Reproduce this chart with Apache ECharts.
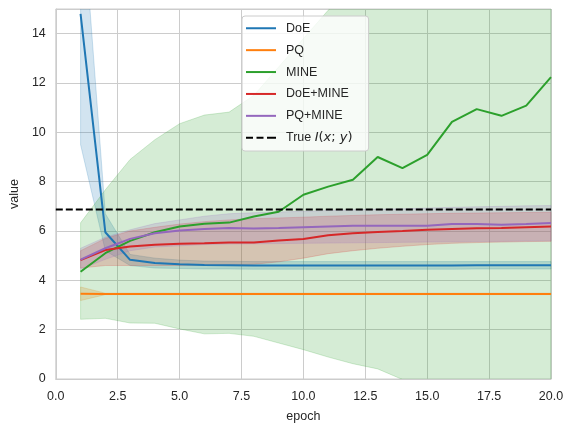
<!DOCTYPE html>
<html>
<head>
<meta charset="utf-8">
<script src="https://cdn.jsdelivr.net/npm/echarts@6/dist/echarts.min.js"></script>
<style>html,body{margin:0;padding:0;background:#fff;}#c{width:574px;height:432px;}</style>
</head>
<body>
<div id="c"></div>
<script>
var epochs = [1,2,3,4,5,6,7,8,9,10,11,12,13,14,15,16,17,18,19,20];
var xTicks = [0,2.5,5,7.5,10,12.5,15,17.5,20];
var yTicks = [0,2,4,6,8,10,12,14];
var trueMI = 6.87;

var doe    = [14.8,5.95,4.83,4.7,4.65,4.62,4.61,4.6,4.6,4.6,4.6,4.6,4.6,4.6,4.6,4.6,4.61,4.61,4.61,4.61];
var doeLo  = [9.5,5.2,4.6,4.5,4.48,4.46,4.46,4.45,4.45,4.45,4.45,4.45,4.45,4.45,4.45,4.45,4.46,4.46,4.46,4.46];
var doeHi  = [20.1,6.7,5.05,4.9,4.82,4.78,4.77,4.76,4.76,4.76,4.76,4.76,4.76,4.76,4.76,4.76,4.76,4.76,4.76,4.76];

var pq     = [3.46,3.45,3.45,3.45,3.45,3.45,3.45,3.45,3.45,3.45,3.45,3.45,3.45,3.45,3.45,3.45,3.45,3.45,3.45,3.45];
var pqLo   = [3.18,3.42,3.42,3.42,3.42,3.42,3.42,3.42,3.42,3.42,3.42,3.42,3.42,3.42,3.42,3.42,3.42,3.42,3.42,3.42];
var pqHi   = [3.73,3.48,3.48,3.48,3.48,3.48,3.48,3.48,3.48,3.48,3.48,3.48,3.48,3.48,3.48,3.48,3.48,3.48,3.48,3.48];

var mine   = [4.35,5.1,5.6,5.95,6.18,6.29,6.34,6.59,6.78,7.47,7.8,8.08,9.0,8.55,9.09,10.42,10.94,10.67,11.08,12.24];
var mineLo = [2.42,2.46,2.27,2.26,2.03,1.83,1.85,1.73,1.46,1.19,0.89,0.62,0.41,-0.02,-0.5,-0.9,-1.3,-1.6,-2.0,-2.4];
var mineHi = [6.33,7.67,8.9,9.7,10.35,10.7,10.82,11.5,12.65,13.8,14.95,15.9,17.0,17.6,18.4,19.6,20.3,20.6,21.2,22.6];

var doeMine   = [4.82,5.23,5.37,5.44,5.48,5.5,5.53,5.53,5.61,5.68,5.83,5.91,5.96,6.0,6.05,6.08,6.11,6.12,6.15,6.18];
var doeMineLo = [4.5,4.6,4.6,4.6,4.6,4.62,4.63,4.65,4.75,4.9,5.08,5.2,5.3,5.38,5.45,5.5,5.53,5.55,5.57,5.58];
var doeMineHi = [5.2,5.7,6.0,6.15,6.28,6.38,6.45,6.5,6.53,6.56,6.6,6.63,6.66,6.68,6.7,6.72,6.73,6.74,6.75,6.76];

var pqMine   = [4.84,5.3,5.68,5.91,6.02,6.08,6.12,6.1,6.12,6.15,6.18,6.21,6.21,6.21,6.21,6.28,6.28,6.25,6.28,6.32];
var pqMineLo = [4.45,4.85,5.2,5.35,5.4,5.45,5.47,5.48,5.49,5.5,5.51,5.52,5.53,5.54,5.55,5.56,5.57,5.58,5.59,5.6];
var pqMineHi = [5.3,5.75,6.05,6.3,6.45,6.6,6.7,6.74,6.77,6.8,6.83,6.86,6.88,6.9,6.93,6.96,6.98,7.0,7.02,7.03];

var legendNames = ['DoE','PQ','MINE','DoE+MINE','PQ+MINE','True I(x;y)'];

var FONT = '"Liberation Sans", Arial, sans-serif';
var TXT = '#262626';
var SOLID_ICON = 'path://M0,0h30v2h-30z';
var DASH_ICON = 'path://M0,0h7v2h-7z M10.5,0h7v2h-7z M21,0h7v2h-7z M28,0h2v2h-2z';

function pts(ys){ return epochs.map(function(x,i){ return [x, ys[i]]; }); }

function lineSeries(name, ys, color){
  return {name:name, type:'line', data:pts(ys), symbol:'none', showSymbol:false,
    lineStyle:{color:color, width:2}, itemStyle:{color:color}, z:3};
}
function bandSeries(name, lo, hi, rgb){
  return {name:name+' band', type:'custom', clip:true, z:3,
    data: epochs.map(function(x,i){ return [x, lo[i], hi[i]]; }),
    encode:{x:0, y:[1,2]},
    renderItem:function(params, api){
      if (params.dataIndex !== 0) return null;
      var p = [];
      for (var i=0;i<epochs.length;i++) p.push(api.coord([epochs[i], hi[i]]));
      for (var j=epochs.length-1;j>=0;j--) p.push(api.coord([epochs[j], lo[j]]));
      return {type:'polygon', shape:{points:p},
        style:{fill:'rgba('+rgb+',0.2)', stroke:'rgba('+rgb+',0.2)', lineWidth:1}};
    }
  };
}

var chart = echarts.init(document.getElementById('c'), null, {renderer:'canvas'});
chart.setOption({
  animation:false,
  backgroundColor:'#ffffff',
  grid:{left:55, right:23, top:9, bottom:53, show:true, borderColor:'#cccccc', borderWidth:1},
  legend:{
    data: legendNames.map(function(n,i){ return {name:n, icon: i===5 ? DASH_ICON : SOLID_ICON}; }),
    orient:'vertical', left:242, top:16,
    itemWidth:30, itemHeight:2, itemGap:7.4,
    padding:[5,16,6,4],
    backgroundColor:'rgba(255,255,255,0.8)', borderColor:'#cccccc', borderWidth:1, borderRadius:3,
    textStyle:{fontFamily:FONT, fontSize:12.5, lineHeight:14.5, color:TXT, padding:[0,0,0,5],
      rich:{i:{fontFamily:'"DejaVu Sans", sans-serif', fontStyle:'italic', fontSize:13, lineHeight:14.5, color:TXT},
            m:{fontFamily:'"DejaVu Sans", sans-serif', fontSize:13, lineHeight:14.5, color:TXT}}},
    formatter:function(n){ return n==='True I(x;y)' ? 'True {i|I}{m|(}{i|x}{m|; }{i|y}{m|)}' : n; },
    selectedMode:false
  },
  xAxis:{type:'value', min:0, max:20, interval:2.5,
    name:'epoch', nameLocation:'middle', nameGap:31,
    nameTextStyle:{fontFamily:FONT, fontSize:12.5, color:TXT},
    axisLine:{show:true, lineStyle:{color:'#cccccc', width:1}},
    axisTick:{show:false},
    axisLabel:{fontFamily:FONT, fontSize:12.5, color:TXT, margin:11,
      formatter:function(v){ return xTicks.indexOf(v)>=0 ? v.toFixed(1) : ''; }},
    splitLine:{show:true, lineStyle:{color:'#cccccc', width:1}}
  },
  yAxis:{type:'value', min:0, max:15, interval:2,
    name:'value', nameLocation:'middle', nameGap:32, nameRotate:90,
    nameTextStyle:{fontFamily:FONT, fontSize:12.5, color:TXT},
    axisLine:{show:true, lineStyle:{color:'#cccccc', width:1}},
    axisTick:{show:false},
    axisLabel:{fontFamily:FONT, fontSize:12.5, color:TXT, margin:10, showMaxLabel:false,
      formatter:function(v){ return yTicks.indexOf(v)>=0 ? String(v) : ''; }},
    splitLine:{show:true, lineStyle:{color:'#cccccc', width:1}}
  },
  series:[
    lineSeries('DoE', doe, '#1f77b4'), bandSeries('DoE', doeLo, doeHi, '31,119,180'),
    lineSeries('PQ', pq, '#ff7f0e'), bandSeries('PQ', pqLo, pqHi, '255,127,14'),
    lineSeries('MINE', mine, '#2ca02c'), bandSeries('MINE', mineLo, mineHi, '44,160,44'),
    lineSeries('DoE+MINE', doeMine, '#d62728'), bandSeries('DoE+MINE', doeMineLo, doeMineHi, '214,39,40'),
    lineSeries('PQ+MINE', pqMine, '#9467bd'), bandSeries('PQ+MINE', pqMineLo, pqMineHi, '148,103,189'),
    {name:'True I(x;y)', type:'line', symbol:'none', showSymbol:false, z:4,
      data:[[0,trueMI],[20,trueMI]],
      lineStyle:{color:'#000000', width:2, type:[7,3]}, itemStyle:{color:'#000000'}}
  ]
});
</script>
</body>
</html>
